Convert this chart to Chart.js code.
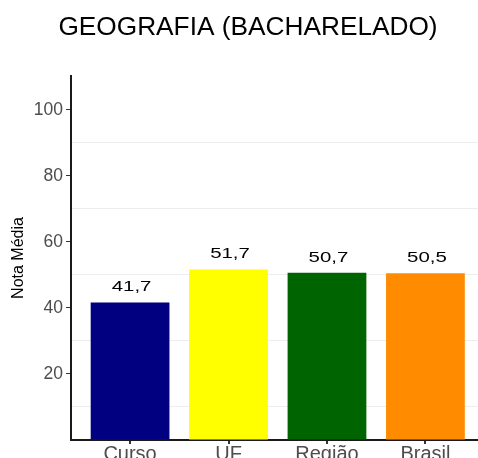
<!DOCTYPE html>
<html>
<head>
<meta charset="utf-8">
<script src="https://cdn.jsdelivr.net/npm/chart.js@4"></script>
<style>
html,body{margin:0;padding:0;background:#fff;}
#wrap{width:478px;height:458px;position:relative;}
</style>
</head>
<body>
<div id="wrap"><canvas id="c" width="478" height="458"></canvas></div>
<script>
const chartTitle = 'GEOGRAFIA (BACHARELADO)';
const categories = ['Curso', 'UF', 'Região', 'Brasil'];
const values = [41.7, 51.7, 50.7, 50.5];
const barColors = ['#000080', '#FFFF00', '#006400', '#FF8C00'];
const yTickLabels = [20, 40, 60, 80, 100];
const yAxisTitle = 'Nota Média';

const positions = categories.map((c, i) => i + 1);
const points = values.map((v, i) => ({x: positions[i], y: v}));

const FONT = "'Liberation Sans', Arial, Helvetica, sans-serif";

const titlePlugin = {
  id: 'titleDraw',
  afterDraw(chart) {
    const ctx = chart.ctx;
    ctx.save();
    ctx.font = '25px ' + FONT;
    ctx.fillStyle = '#000';
    ctx.textAlign = 'center';
    ctx.textBaseline = 'alphabetic';
    ctx.translate(248, 35);
    ctx.scale(1.05, 1);
    ctx.fillText(chartTitle, 0, 0);
    ctx.restore();
  }
};

const valueLabels = {
  id: 'valueLabels',
  afterDatasetsDraw(chart) {
    const ctx = chart.ctx;
    const meta = chart.getDatasetMeta(0);
    ctx.save();
    ctx.font = '15px ' + FONT;
    ctx.fillStyle = '#000';
    ctx.textAlign = 'center';
    ctx.textBaseline = 'alphabetic';
    meta.data.forEach((el, i) => {
      const txt = values[i].toFixed(1).replace('.', ',');
      ctx.save();
      ctx.translate(el.x + 1.5, el.y - 11);
      ctx.scale(1.36, 1);
      ctx.fillText(txt, 0, 0);
      ctx.restore();
    });
    ctx.restore();
  }
};

new Chart(document.getElementById('c'), {
  type: 'bar',
  data: {
    datasets: [{
      data: points,
      backgroundColor: barColors,
      borderWidth: 0,
      categoryPercentage: 0.8,
      barPercentage: 1.0
    }]
  },
  options: {
    responsive: false,
    animation: false,
    devicePixelRatio: 1,
    layout: {padding: {top: 76, left: 0, right: 0, bottom: 0}},
    plugins: {legend: {display: false}, tooltip: {enabled: false}, title: {display: false}},
    scales: {
      x: {
        type: 'linear',
        offset: false,
        min: 0.4,
        max: 4.534,
        afterBuildTicks: s => { s.ticks = positions.map(v => ({value: v})); },
        afterFit: s => { s.height = 18; },
        grid: {offset: false, color: '#ffffff', lineWidth: 2, tickColor: '#333333', tickLength: 4, drawOnChartArea: true},
        border: {display: true, color: '#1a1a1a', width: 2},
        ticks: {
          autoSkip: false,
          maxRotation: 0,
          padding: -2,
          color: '#4d4d4d',
          font: {family: FONT, size: 20},
          callback: v => categories[Math.round(v) - 1] || ''
        }
      },
      y: {
        min: 0,
        max: 110.3,
        afterFit: s => { s.width = 71; },
        grid: {
          z: -1,
          color: c => { const v = Math.round(c.tick.value * 10) / 10; return (v % 20 === 10) ? '#ededed' : 'rgba(0,0,0,0)'; },
          tickColor: c => { const v = Math.round(c.tick.value * 10) / 10; return yTickLabels.includes(v) ? '#333333' : 'rgba(0,0,0,0)'; },
          lineWidth: 1,
          tickLength: 5
        },
        border: {display: true, color: '#1a1a1a', width: 2},
        ticks: {
          stepSize: 10,
          padding: 3,
          color: '#4d4d4d',
          font: {family: FONT, size: 17.5},
          callback: v => { const r = Math.round(v * 10) / 10; return yTickLabels.includes(r) ? String(r) : ''; }
        },
        title: {
          display: true,
          text: yAxisTitle,
          color: '#000',
          font: {family: FONT, size: 16},
          padding: {top: 9, bottom: 0}
        }
      }
    }
  },
  plugins: [titlePlugin, valueLabels]
});
</script>
</body>
</html>
